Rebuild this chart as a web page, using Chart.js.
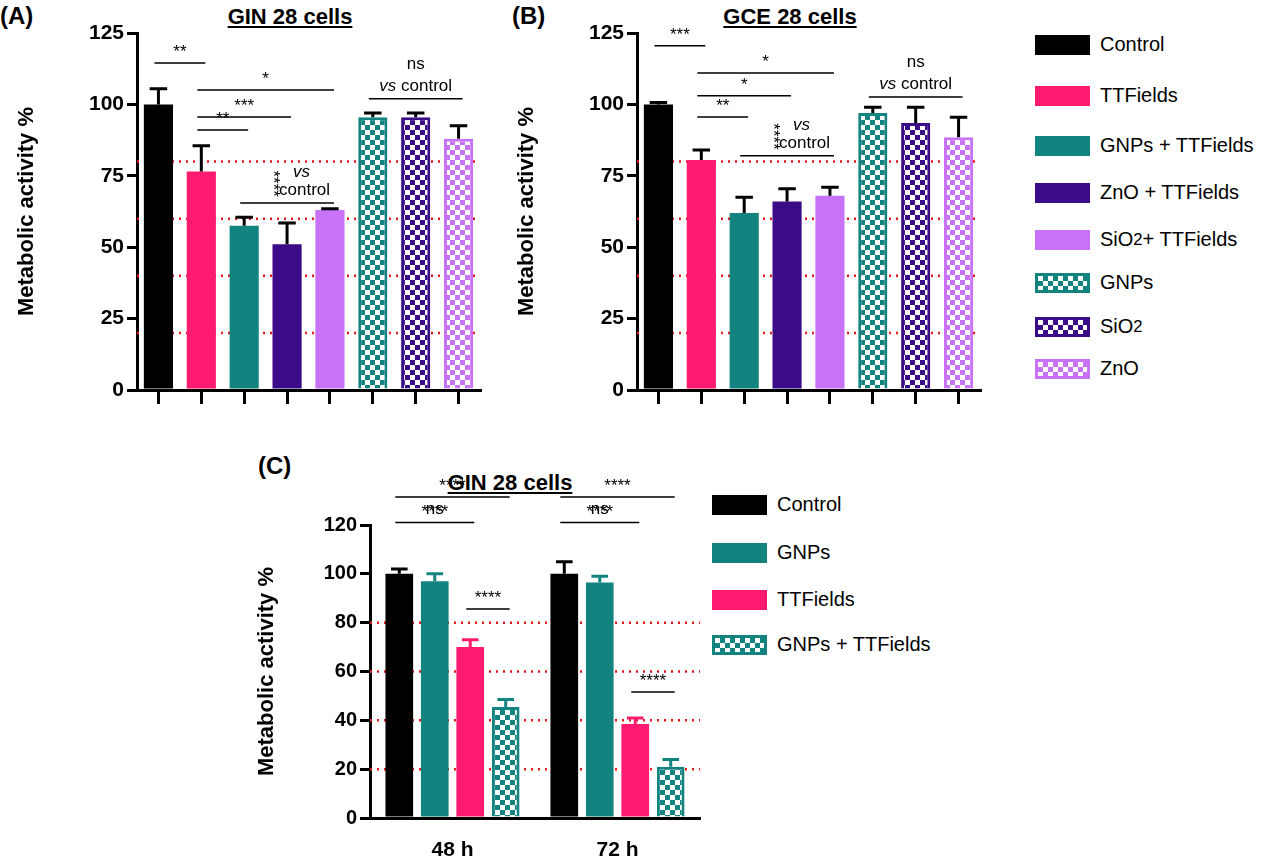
<!DOCTYPE html>
<html><head><meta charset="utf-8">
<script src="https://cdn.jsdelivr.net/npm/chart.js@4"></script>
<style>
body{margin:0;width:1280px;height:865px;background:#fff;font-family:"Liberation Sans",Arial,sans-serif;position:relative;overflow:hidden}
.abs{position:absolute}
.ttl{font-weight:bold;font-size:22px;text-decoration:underline;text-align:center}
.lab{font-weight:bold;font-size:24px}
.leg{position:absolute;font-size:20px;display:flex;align-items:center}
.sw{width:55px;height:20px;margin-right:10px;box-sizing:border-box}
</style></head><body>
<div class="abs lab" style="left:0;top:2px">(A)</div>
<div class="abs lab" style="left:512px;top:2px">(B)</div>
<div class="abs lab" style="left:258px;top:452px">(C)</div>
<div class="abs ttl" style="left:190px;top:4px;width:200px">GIN 28 cells</div>
<div class="abs ttl" style="left:690px;top:4px;width:200px">GCE 28 cells</div>
<div class="abs ttl" style="left:410px;top:470px;width:200px">GIN 28 cells</div>
<div class="abs" style="left:0;top:0"><canvas id="cA" width="490" height="420"></canvas></div>
<div class="abs" style="left:500px;top:0"><canvas id="cB" width="490" height="420"></canvas></div>
<div class="abs" style="left:240px;top:440px"><canvas id="cC" width="470" height="425"></canvas></div>
<div id="legAB"></div><div id="legC"></div>
<script>
// Panel A/B categories (legend order)
const catNames = ['Control', 'TTFields', 'GNPs + TTFields', 'ZnO + TTFields', 'SiO<sub>2</sub> + TTFields', 'GNPs', 'SiO<sub>2</sub>', 'ZnO'];
const catColors = ['#000000', '#fe1a6f', '#138380', '#3b0c88', '#c872f7', '#138380', '#3b0c88', '#c872f7'];
const catChecker = [false, false, false, false, false, true, true, true];

const valuesA = [100, 76.5, 57.5, 51, 63, 95.5, 95.5, 88];
const errorsA = [5.5, 9, 3, 7.5, 0.5, 1.5, 1.5, 4.5];
const valuesB = [100, 80.5, 62, 66, 68, 97, 93.5, 88.5];
const errorsB = [0.7, 3.5, 5.5, 4.5, 3, 2, 5.5, 7];

// Panel C
const groupsC = ['48 h', '72 h'];
const seriesC = ['Control', 'GNPs', 'TTFields', 'GNPs + TTFields'];
const colorsC = ['#000000', '#138380', '#fe1a6f', '#138380'];
const checkerC = [false, false, false, true];
const valuesC = [[100, 100], [97, 96.5], [70, 38.5], [45.5, 21]];
const errorsC = [[2, 5], [3, 2.5], [3, 2.5], [3, 3]];

// significance brackets: [dataset, index] ends, y in data units
const bracketsA = [
  {a: [0, 0], b: [0, 1], y: 114.5, t: '**'},
  {a: [0, 1], b: [0, 2], y: 91, t: '**'},
  {a: [0, 1], b: [0, 3], y: 95.6, t: '***'},
  {a: [0, 1], b: [0, 4], y: 105, t: '*'},
  {a: [0, 5], b: [0, 7], y: 102, t: 'ns', t2: 'vs control', flat: true},
  {a: [0, 2], b: [0, 4], y: 65.5, t: '', vs: true, flat: true}
];
const bracketsB = [
  {a: [0, 0], b: [0, 1], y: 120.5, t: '***'},
  {a: [0, 1], b: [0, 2], y: 95.6, t: '**'},
  {a: [0, 1], b: [0, 3], y: 103, t: '*'},
  {a: [0, 1], b: [0, 4], y: 111, t: '*'},
  {a: [0, 5], b: [0, 7], y: 102.6, t: 'ns', t2: 'vs control', flat: true},
  {a: [0, 2], b: [0, 4], y: 82, t: '', vs: true, flat: true}
];
const bracketsC = [
  {a: [0, 0], b: [3, 0], y: 131.5, t: '****'},
  {a: [0, 0], b: [2, 0], y: 121, t: '****'},
  {a: [2, 0], b: [3, 0], y: 85.6, t: '****'},
  {a: [0, 1], b: [3, 1], y: 131.5, t: '****'},
  {a: [0, 1], b: [2, 1], y: 121, t: '****'},
  {a: [2, 1], b: [3, 1], y: 51.6, t: '****'}
];
const nsC = [[1, 0, 123], [1, 1, 123]];
const dottedLines = [20, 40, 60, 80];

function checker(color) {
  const c = document.createElement('canvas');
  c.width = 10; c.height = 10;
  const g = c.getContext('2d');
  g.fillStyle = '#fff'; g.fillRect(0, 0, 10, 10);
  g.fillStyle = color; g.fillRect(0, 0, 5, 5); g.fillRect(5, 5, 5, 5);
  return g.createPattern(c, 'repeat');
}

const extras = {
  id: 'extras',
  beforeDatasetsDraw(chart) {
    const {ctx, chartArea, scales} = chart;
    ctx.save();
    ctx.strokeStyle = '#e8161b'; ctx.lineWidth = 2.5; ctx.setLineDash([2, 5]);
    dottedLines.forEach(v => {
      const y = scales.y.getPixelForValue(v);
      ctx.beginPath(); ctx.moveTo(chartArea.left, y); ctx.lineTo(chartArea.right, y); ctx.stroke();
    });
    ctx.restore();
  },
  afterDatasetsDraw(chart, args, opts) {
    const {ctx, scales} = chart;
    ctx.save();
    ctx.lineWidth = 3;
    chart.data.datasets.forEach((ds, d) => {
      chart.getDatasetMeta(d).data.forEach((bar, i) => {
        const e = ds.errs[i];
        const y0 = bar.y, y1 = scales.y.getPixelForValue(ds.data[i] + e);
        const w = bar.width * 0.3;
        ctx.strokeStyle = ds.lineColor;
        ctx.beginPath(); ctx.moveTo(bar.x, y0); ctx.lineTo(bar.x, y1);
        ctx.moveTo(bar.x - w, y1); ctx.lineTo(bar.x + w, y1); ctx.stroke();
      });
    });
    ctx.lineWidth = 1.5; ctx.strokeStyle = '#000'; ctx.fillStyle = '#000';
    ctx.textAlign = 'center'; ctx.textBaseline = 'bottom';
    (opts.brackets || []).forEach(b => {
      const x1 = chart.getDatasetMeta(b.a[0]).data[b.a[1]].x;
      const x2 = chart.getDatasetMeta(b.b[0]).data[b.b[1]].x;
      const pad = b.flat ? 4 : 0;
      const y = scales.y.getPixelForValue(b.y);
      ctx.beginPath(); ctx.moveTo(x1 - pad, y); ctx.lineTo(x2 + pad, y);
      if (!b.flat) { ctx.moveTo(x1, y - 6); ctx.lineTo(x1, y + 6); ctx.moveTo(x2, y - 6); ctx.lineTo(x2, y + 6); }
      ctx.stroke();
      const xm = (x1 + x2) / 2;
      if (b.t2) {
        ctx.font = '17px "Liberation Sans"';
        ctx.fillText(b.t, xm, y - 26);
        ctx.font = 'italic 17px "Liberation Sans"';
        const w1 = ctx.measureText('vs ').width;
        ctx.font = '17px "Liberation Sans"';
        const w2 = ctx.measureText('control').width;
        ctx.textAlign = 'left';
        ctx.font = 'italic 17px "Liberation Sans"';
        ctx.fillText('vs ', xm - (w1 + w2) / 2, y - 4);
        ctx.font = '17px "Liberation Sans"';
        ctx.fillText('control', xm - (w1 + w2) / 2 + w1, y - 4);
        ctx.textAlign = 'center';
      } else if (b.vs) {
        ctx.save();
        ctx.translate(xm - 14, y - 6);
        ctx.rotate(Math.PI / 2);
        ctx.font = '17px "Liberation Sans"'; ctx.textAlign = 'right'; ctx.textBaseline = 'middle';
        ctx.fillText('****', 0, 0);
        ctx.restore();
        ctx.textAlign = 'left';
        ctx.font = '17px "Liberation Sans"';
        ctx.fillText('control', xm - 8, y - 4);
        ctx.font = 'italic 17px "Liberation Sans"';
        ctx.fillText('vs', xm + 6, y - 22);
        ctx.textAlign = 'center';
      } else {
        ctx.font = '17px "Liberation Sans"';
        ctx.fillText(b.t, xm, y - 2);
      }
    });
    (opts.ns || []).forEach(n => {
      const bar = chart.getDatasetMeta(n[0]).data[n[1]];
      ctx.font = '17px "Liberation Sans"';
      ctx.fillText('ns', bar.x, scales.y.getPixelForValue(n[2]));
    });
    ctx.restore();
  }
};

const yTitle = {display: true, text: 'Metabolic activity %', color: '#000', font: {size: 22, weight: 'bold', family: '"Liberation Sans"'}};

function panelAB(id, values, errors, brackets) {
  new Chart(document.getElementById(id), {
    type: 'bar',
    plugins: [extras],
    data: {
      labels: catNames.map(() => ''),
      datasets: [{
        data: values, errs: errors, lineColor: catColors,
        backgroundColor: catColors.map((c, i) => catChecker[i] ? checker(c) : c),
        borderColor: catColors, borderWidth: catChecker.map(c => c ? 3 : 0),
        barPercentage: 0.68, categoryPercentage: 1
      }]
    },
    options: {
      responsive: false, animation: false,
      layout: {padding: {left: 10, right: 10, top: 33, bottom: 10}},
      plugins: {legend: {display: false}, tooltip: {enabled: false}, extras: {brackets: brackets}},
      scales: {
        x: {
          grid: {drawOnChartArea: false, offset: false, color: '#000', lineWidth: 3, tickLength: 14},
          border: {color: '#000', width: 3}, ticks: {display: false},
          afterFit: s => { s.height = 20; }
        },
        y: {
          min: 0, max: 125,
          ticks: {stepSize: 25, color: '#000', font: {size: 21, weight: 'bold', family: '"Liberation Sans"'}},
          grid: {drawOnChartArea: false, color: '#000', lineWidth: 3, tickLength: 10},
          border: {color: '#000', width: 3},
          title: yTitle,
          afterFit: s => { s.width = 127; }
        }
      }
    }
  });
}
// fix per-dataset line colors for errors (array per bar)
panelAB('cA', valuesA, errorsA, bracketsA);
panelAB('cB', valuesB, errorsB, bracketsB);

new Chart(document.getElementById('cC'), {
  type: 'bar',
  plugins: [extras],
  data: {
    labels: groupsC,
    datasets: seriesC.map((s, d) => ({
      label: s, data: valuesC[d], errs: errorsC[d], lineColor: colorsC[d],
      backgroundColor: checkerC[d] ? checker(colorsC[d]) : colorsC[d],
      borderColor: colorsC[d], borderWidth: checkerC[d] ? 3 : 0,
      barPercentage: 0.78, categoryPercentage: 0.86
    }))
  },
  options: {
    responsive: false, animation: false,
    layout: {padding: {left: 10, right: 10, top: 85, bottom: 2}},
    plugins: {legend: {display: false}, tooltip: {enabled: false}, extras: {brackets: bracketsC, ns: nsC}},
    scales: {
      x: {
        grid: {display: false}, border: {color: '#000', width: 3},
        ticks: {color: '#000', padding: 12, font: {size: 21, weight: 'bold', family: '"Liberation Sans"'}},
        afterFit: s => { s.height = 45; }
      },
      y: {
        min: 0, max: 120,
        ticks: {stepSize: 20, color: '#000', font: {size: 20, weight: 'bold', family: '"Liberation Sans"'}},
        grid: {drawOnChartArea: false, color: '#000', lineWidth: 3, tickLength: 10},
        border: {color: '#000', width: 3},
        title: yTitle,
        afterFit: s => { s.width = 120; }
      }
    }
  }
});

// per-bar error colours: patch lineColor arrays for A/B
Chart.instances && Object.values(Chart.instances).forEach(ch => {
  ch.data.datasets.forEach(ds => {
    if (Array.isArray(ds.lineColor)) {
      ch.data.datasets[0].lineColor = ds.lineColor;
    }
  });
});

function swatchStyle(color, chk) {
  if (!chk) return 'background:' + color;
  return 'border:3px solid ' + color + ';background-color:#fff;background-image:' +
    'linear-gradient(45deg,' + color + ' 25%,transparent 25%,transparent 75%,' + color + ' 75%),' +
    'linear-gradient(45deg,' + color + ' 25%,transparent 25%,transparent 75%,' + color + ' 75%);' +
    'background-size:10px 10px;background-position:0 0,5px 5px';
}
const legTopsAB = [33, 84, 134, 181, 228, 271, 315, 357];
document.getElementById('legAB').innerHTML = catNames.map((n, i) =>
  '<div class="leg" style="left:1035px;top:' + legTopsAB[i] + 'px"><div class="sw" style="' +
  swatchStyle(catColors[i], catChecker[i]) + '"></div>' + n + '</div>').join('');
const legTopsC = [493, 541, 588, 633];
document.getElementById('legC').innerHTML = seriesC.map((n, i) =>
  '<div class="leg" style="left:712px;top:' + legTopsC[i] + 'px"><div class="sw" style="' +
  swatchStyle(colorsC[i], checkerC[i]) + '"></div>' + n + '</div>').join('');
</script>
</body></html>
